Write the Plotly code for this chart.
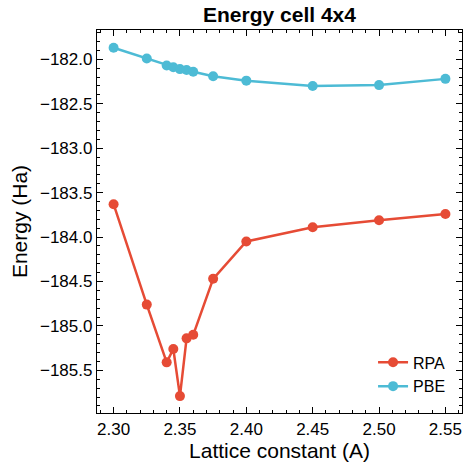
import plotly.graph_objects as go

# Lattice constants (A) and energies (Ha)
lattice = [2.300, 2.325, 2.340, 2.345, 2.350, 2.355, 2.360, 2.375, 2.400, 2.450, 2.500, 2.550]
rpa = [-183.63, -184.76, -185.41, -185.26, -185.79, -185.14, -185.10, -184.47, -184.05, -183.89, -183.81, -183.74]
pbe = [-181.87, -181.99, -182.07, -182.09, -182.11, -182.12, -182.14, -182.19, -182.24, -182.30, -182.29, -182.22]

RED = "#E64B35"
BLUE = "#4DBBD5"

fig = go.Figure()
fig.add_trace(go.Scatter(x=lattice, y=rpa, name="RPA", mode="lines+markers",
                         line=dict(color=RED, width=2.5), marker=dict(color=RED, size=10)))
fig.add_trace(go.Scatter(x=lattice, y=pbe, name="PBE", mode="lines+markers",
                         line=dict(color=BLUE, width=2.5), marker=dict(color=BLUE, size=10)))

fig.update_layout(
    width=467, height=467,
    margin=dict(l=97, r=5, t=30, b=54),
    plot_bgcolor="white", paper_bgcolor="white",
    font=dict(family="Liberation Sans, Arial, sans-serif", color="black"),
    title=dict(text="<b>Energy cell 4x4</b>", xref="paper", x=0.5, xanchor="center",
               y=0.969, yanchor="middle", font=dict(size=21)),
    legend=dict(x=0.97, y=0.025, xanchor="right", yanchor="bottom", bgcolor="rgba(0,0,0,0)",
                font=dict(size=16)),
)
fig.update_xaxes(showline=True, linecolor="black", linewidth=1.3, mirror="allticks",
                 ticks="inside", ticklen=6, tickwidth=1.3, tickcolor="black",
                 showgrid=False, zeroline=False, tickfont=dict(size=17),
                 range=[2.2875, 2.5625], dtick=0.05, tickformat=".2f",
                 minor=dict(ticks="inside", dtick=0.01, ticklen=3, tickwidth=1, tickcolor="black"),
                 title=dict(text="Lattice constant (A)", font=dict(size=21), standoff=4))
fig.update_yaxes(showline=True, linecolor="black", linewidth=1.3, mirror="allticks",
                 ticks="inside", ticklen=6, tickwidth=1.3, tickcolor="black",
                 showgrid=False, zeroline=False, tickfont=dict(size=17),
                 range=[-185.98, -181.67], dtick=0.5, tickformat=".1f",
                 minor=dict(ticks="inside", dtick=0.1, ticklen=3, tickwidth=1, tickcolor="black"),
                 title=dict(text="Energy (Ha)", font=dict(size=21), standoff=6))

# drop the default page margin so the figure sits at the window corner
fig.write_html("out.html", config={"displayModeBar": False},
               post_script="document.body.style.margin='0';")
